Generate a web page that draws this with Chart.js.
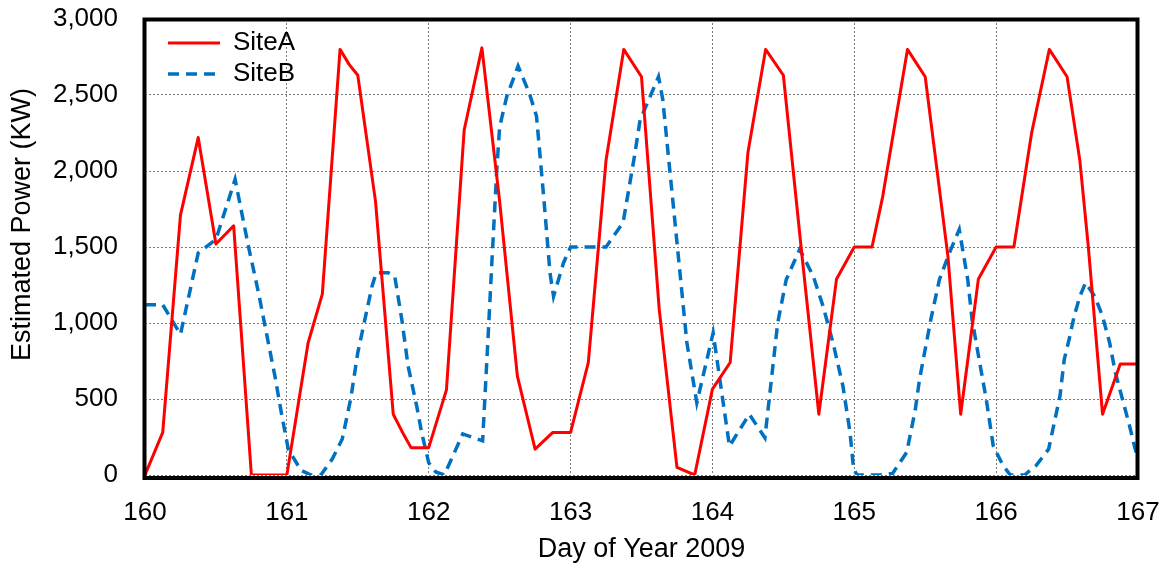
<!DOCTYPE html>
<html>
<head>
<meta charset="utf-8">
<script src="https://cdn.jsdelivr.net/npm/chart.js@4.4.1/dist/chart.umd.min.js"></script>
<style>
  html, body { margin: 0; padding: 0; background: #fff; }
  #wrap { width: 1173px; height: 575px; position: relative; }
</style>
</head>
<body>
<div id="wrap"><canvas id="powerChart"></canvas></div>
<script>
// Site A (red, solid)
const siteADays = [160.0, 160.125, 160.25, 160.375, 160.5, 160.625, 160.75, 161.0, 161.15, 161.25,
  161.375, 161.44, 161.5, 161.625, 161.75, 161.81, 161.875, 162.0, 162.125, 162.25,
  162.375, 162.5, 162.625, 162.75, 162.875, 163.0, 163.125, 163.25, 163.375, 163.5,
  163.625, 163.75, 163.875, 164.0, 164.125, 164.25, 164.375, 164.5, 164.625, 164.75,
  164.875, 165.0, 165.125, 165.2, 165.375, 165.5, 165.66, 165.75, 165.875, 166.0,
  166.125, 166.25, 166.375, 166.5, 166.59, 166.65, 166.75, 166.875, 167.0, 167.1];
const siteAPower = [0, 280, 1710, 2220, 1520, 1640, 0, 0, 870, 1190,
  2800, 2700, 2630, 1800, 400, 290, 180, 180, 560, 2270,
  2810, 1800, 650, 170, 280, 280, 740, 2070, 2800, 2620,
  1090, 50, 0, 565, 740, 2120, 2800, 2630, 1500, 400,
  1290, 1500, 1500, 1830, 2800, 2620, 1440, 400, 1290, 1500,
  1500, 2250, 2800, 2620, 2070, 1500, 400, 730, 730, 1000];

// Site B (blue, dashed)
const siteBDays = [160.0, 160.125, 160.25, 160.375, 160.5, 160.635, 160.73, 160.8, 160.86, 160.92,
  160.96, 161.01, 161.1, 161.17, 161.24, 161.32, 161.39, 161.45, 161.5, 161.6,
  161.63, 161.715, 161.76, 161.81, 161.855, 161.915, 161.95, 162.0, 162.05, 162.11,
  162.24, 162.38, 162.42, 162.445, 162.48, 162.5, 162.55, 162.63, 162.71, 162.76,
  162.81, 162.855, 162.88, 162.95, 163.0, 163.25, 163.37, 163.45, 163.49, 163.62,
  163.65, 163.75, 163.82, 163.89, 164.005, 164.12, 164.26, 164.37, 164.46, 164.52,
  164.615, 164.71, 164.78, 164.85, 164.92, 164.97, 164.995, 165.02, 165.2, 165.27,
  165.37, 165.43, 165.46, 165.54, 165.6, 165.67, 165.74, 165.8, 165.83, 165.88,
  165.93, 165.98, 166.05, 166.1, 166.2, 166.28, 166.37, 166.41, 166.45, 166.48,
  166.52, 166.55, 166.59, 166.63, 166.695, 166.75, 166.8, 166.84, 166.89, 166.94,
  166.975, 167.0];
const siteBPower = [1120, 1120, 925, 1460, 1550, 1945, 1500, 1200, 915, 630,
  415, 170, 30, 0, 0, 105, 235, 500, 805, 1240,
  1330, 1330, 1310, 1025, 715, 455, 280, 80, 20, 0,
  270, 225, 935, 1395, 2010, 2290, 2490, 2690, 2510, 2360,
  1835, 1330, 1175, 1395, 1500, 1500, 1660, 2095, 2335, 2620,
  2470, 1530, 870, 475, 935, 190, 400, 245, 1000, 1285,
  1485, 1310, 1110, 870, 585, 280, 40, 0, 0, 10,
  150, 430, 630, 1025, 1285, 1460, 1615, 1285, 1025, 760,
  500, 190, 60, 0, 0, 60, 170, 345, 520, 760,
  915, 1045, 1175, 1265, 1175, 1045, 870, 675, 500, 325,
  190, 105];

const seriesNames = ['SiteA', 'SiteB'];
const xTitle = 'Day of Year 2009';
// leading spaces lift the rotated title a little, as in the original
const yTitle = '      Estimated Power (KW)';

const toPoints = (days, vals) => days.map((d, i) => ({ x: d, y: vals[i] }));

// black frame round the plot area, like the original
const plotFrame = {
    id: 'plotFrame',
    afterDatasetsDraw(chart) {
        const { ctx, chartArea } = chart;
        ctx.save();
        ctx.strokeStyle = '#000';
        ctx.lineWidth = 4;
        ctx.strokeRect(chartArea.left - 0.5, chartArea.top + 0.5,
            chartArea.right - chartArea.left, chartArea.bottom - chartArea.top + 2.5);
        ctx.restore();
    }
};

// put the legend in the top-left corner of the plot
const legendNudge = {
    id: 'legendNudge',
    afterLayout(chart) {
        if (chart.legend) {
            chart.legend.left = chart.chartArea.left + 18;
            chart.legend.top = chart.chartArea.top + 6;
        }
    }
};

const ctx = document.querySelector('#powerChart').getContext('2d');

new Chart(ctx, {
    type: 'line',
    data: {
        datasets: [{
            label: seriesNames[0],
            data: toPoints(siteADays, siteAPower),
            borderColor: '#ff0000',
            backgroundColor: '#ff0000',
            borderWidth: 3,
            pointRadius: 0,
            tension: 0,
            borderJoinStyle: 'round'
        }, {
            label: seriesNames[1],
            data: toPoints(siteBDays, siteBPower),
            borderColor: '#0070c0',
            backgroundColor: '#0070c0',
            borderWidth: 3.5,
            borderDash: [11, 7],
            pointRadius: 0,
            tension: 0
        }]
    },
    options: {
        responsive: true,
        maintainAspectRatio: false,
        animation: false,
        layout: {
            padding: { top: 19, right: 35, left: 0, bottom: 0 }
        },
        scales: {
            x: {
                type: 'linear',
                min: 160,
                max: 167,
                afterFit: (scale) => { scale.height = 100; },
                ticks: {
                    stepSize: 1,
                    padding: 0,
                    color: '#000',
                    font: { family: 'Liberation Sans', size: 26 },
                    callback: (v) => String(v)
                },
                grid: {
                    color: '#7a7a7a',
                    lineWidth: 1,
                    tickLength: 22,
                    tickColor: 'rgba(0,0,0,0)'
                },
                border: { display: false, dash: [2, 2] },
                title: {
                    display: true,
                    text: xTitle,
                    color: '#000',
                    font: { family: 'Liberation Sans', size: 27 },
                    padding: { top: 9, bottom: 9 }
                }
            },
            y: {
                min: 0,
                max: 3000,
                afterFit: (scale) => { scale.width = 145; },
                ticks: {
                    stepSize: 500,
                    padding: 0,
                    color: '#000',
                    font: { family: 'Liberation Sans', size: 26 },
                    callback: (v) => v.toLocaleString('en-US')
                },
                grid: {
                    color: '#7a7a7a',
                    lineWidth: 1,
                    tickLength: 27,
                    tickColor: 'rgba(0,0,0,0)'
                },
                border: { display: false, dash: [2, 2] },
                title: {
                    display: true,
                    text: yTitle,
                    color: '#000',
                    font: { family: 'Liberation Sans', size: 27 },
                    padding: { top: 6, bottom: 6 }
                }
            }
        },
        plugins: {
            legend: {
                position: 'chartArea',
                align: 'start',
                labels: {
                    usePointStyle: true,
                    pointStyle: 'line',
                    pointStyleWidth: 52,
                    padding: 5,
                    color: '#000',
                    font: { family: 'Liberation Sans', size: 26 },
                    generateLabels: (chart) => Chart.defaults.plugins.legend.labels.generateLabels(chart)
                        .map((item, i) => {
                            const ds = chart.data.datasets[i];
                            return Object.assign(item, {
                                lineDash: ds.borderDash || [],
                                lineWidth: ds.borderWidth,
                                strokeStyle: ds.borderColor
                            });
                        })
                }
            },
            tooltip: { enabled: false }
        }
    },
    plugins: [plotFrame, legendNudge]
});
</script>
</body>
</html>
